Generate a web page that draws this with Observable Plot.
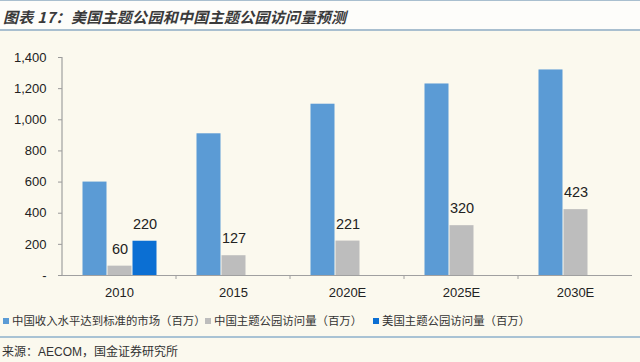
<!DOCTYPE html>
<html><head><meta charset="utf-8">
<script src="https://cdn.jsdelivr.net/npm/d3@7"></script>
<script src="https://cdn.jsdelivr.net/npm/@observablehq/plot@0.6"></script>
<style>
html,body{margin:0;padding:0;}
body{width:640px;height:362px;background:#fbf9ee;position:relative;overflow:hidden;font-family:"Liberation Sans","Noto Sans CJK SC",sans-serif;}
#title{position:absolute;left:0;top:0;width:640px;height:28px;background:#fdfdfa;border-top:1.5px solid #a9bfcf;border-bottom:2px solid #a9bfcf;}
#title span{position:absolute;left:3px;top:5px;font-size:15px;font-weight:bold;font-style:italic;color:#3a3a3a;font-family:"Noto Sans CJK SC","Liberation Sans",sans-serif;letter-spacing:0.3px;}
#chart{position:absolute;left:0;top:38px;}
#legend{position:absolute;left:0;top:311px;width:640px;height:18px;font-family:"Noto Sans CJK SC",sans-serif;font-size:11.4px;color:#333;}
.li{position:absolute;top:0;white-space:nowrap;line-height:18px;}
.sw{display:inline-block;width:6px;height:6px;margin-right:3px;vertical-align:1px;}
#srcline{position:absolute;left:0;top:336px;width:640px;height:0;border-top:2px solid #a9c3d4;}
#src{position:absolute;left:2px;top:342px;font-size:12px;color:#333;font-family:"Liberation Sans","Noto Sans CJK SC",sans-serif;}
</style></head>
<body>
<div id="title"><span>图表 17：美国主题公园和中国主题公园访问量预测</span></div>
<div id="chart"></div>
<div id="legend"></div>
<div id="srcline"></div>
<div id="src">来源：AECOM，国金证券研究所</div>
<script>
const years = ["2010", "2015", "2020E", "2025E", "2030E"];
const series = ["中国收入水平达到标准的市场（百万）", "中国主题公园访问量（百万）", "美国主题公园访问量（百万）"];
const colors = ["#5b9bd5", "#bdbdbd", "#0b6fd3"];
const market = [600, 910, 1100, 1230, 1320];
const cnVisits = [60, 127, 221, 320, 423];
const usVisits = [220, null, null, null, null];
const yTicks = [0, 200, 400, 600, 800, 1000, 1200, 1400];

const rows = [];
[market, cnVisits, usVisits].forEach((arr, si) => {
  arr.forEach((v, i) => { if (v != null) rows.push({year: years[i], series: series[si], value: v}); });
});

const plot = Plot.plot({
  width: 640, height: 267,
  marginLeft: 61, marginRight: 7, marginTop: 19, marginBottom: 30,
  style: {background: "transparent", fontFamily: "Liberation Sans, sans-serif"},
  fx: {domain: years, padding: 0, label: null},
  x: {domain: series, paddingInner: 0, paddingOuter: 0.76, axis: null},
  y: {domain: [0, 1400], label: null},
  color: {domain: series, range: colors},
  marks: [
    Plot.axisY({ticks: yTicks, tickSize: 4, tickPadding: 12, stroke: "#999", fontSize: 13, color: "#222",
      tickFormat: d => d === 0 ? "-" : d3.format(",")(d)}),
    Plot.axisFx({anchor: "bottom", tickSize: 0, tickPadding: 12, fontSize: 13, color: "#222", label: null}),
    Plot.barY(rows, {fx: "year", x: "series", y: "value", fill: "series", insetLeft: 0.5, insetRight: 0.5}),
    Plot.text(rows.filter(d => d.series !== series[0]), {fx: "year", x: "series", y: "value", text: d => String(d.value), dy: -17, fontSize: 14.5, fill: "#222"}),
    Plot.ruleY([0], {stroke: "#a0a0a0", strokeWidth: 1.2})
  ]
});
document.getElementById("chart").appendChild(plot);

// y axis line and category boundary ticks
const svg = d3.select(plot);
const fx = plot.scale("fx"), y = plot.scale("y");
const x0 = fx.apply(years[0]);
svg.append("line").attr("x1", x0).attr("x2", x0).attr("y1", y.apply(1400)).attr("y2", y.apply(0)).attr("stroke", "#a0a0a0").attr("stroke-width", 1.2);
years.forEach((yr, i) => {
  const xb = fx.apply(yr);
  if (i > 0) svg.append("line").attr("x1", xb).attr("x2", xb).attr("y1", y.apply(0)).attr("y2", y.apply(0) + 4).attr("stroke", "#a0a0a0");
});

// legend
const lpos = [3, 205, 373];
const leg = document.getElementById("legend");
series.forEach((s, i) => {
  const d = document.createElement("div");
  d.className = "li"; d.style.left = lpos[i] + "px";
  d.innerHTML = `<span class="sw" style="background:${colors[i]}"></span>${s}`;
  leg.appendChild(d);
});
</script>
</body></html>
